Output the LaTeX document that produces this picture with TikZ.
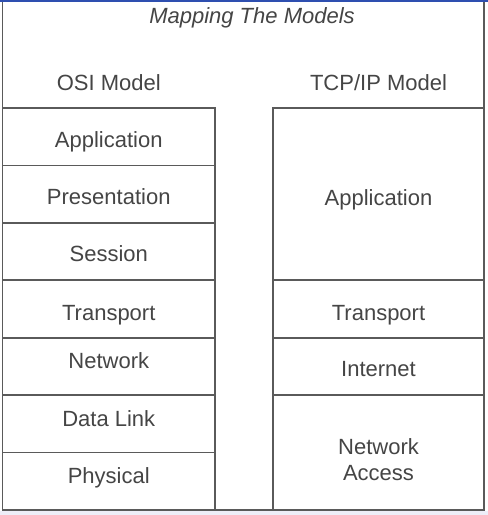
\documentclass[tikz,border=0pt]{standalone}
\usepackage{fontspec}
\setmainfont{Liberation Sans}
\definecolor{linegray}{HTML}{5A5A5A}
\definecolor{textgray}{HTML}{454545}
\definecolor{topblue}{HTML}{2E4FB0}
\definecolor{lav}{HTML}{EEEEF8}
\begin{document}
\begin{tikzpicture}[x=1pt,y=-1pt,
  layer/.style={draw=linegray,line width=1.8pt,rectangle,inner sep=0pt,outer sep=0pt,anchor=north west},
  txt/.style={text=textgray,font=\fontsize{22}{26}\selectfont,anchor=base,inner sep=0pt},
  ttl/.style={text=textgray,font=\fontsize{22}{26}\selectfont\itshape,anchor=base,inner sep=0pt}]
\useasboundingbox (0,0) rectangle (488,515);
\fill[white] (0,0) rectangle (488,515);
\fill[lav] (0,511) rectangle (488,515);
% outer frame
\node[layer,minimum width=481.5pt,minimum height=510pt] (frame) at (2.5,0) {};
\fill[topblue] (0,0) rectangle (488,1.6);
% OSI column
\node[layer,minimum width=212.5pt,minimum height=57.43pt] (o1) at (2.5,108) {};
\node[layer,minimum width=212.5pt,minimum height=57.43pt] (o2) at (2.5,165.43) {};
\node[layer,minimum width=212.5pt,minimum height=57.43pt] (o3) at (2.5,222.86) {};
\node[layer,minimum width=212.5pt,minimum height=57.43pt] (o4) at (2.5,280.29) {};
\node[layer,minimum width=212.5pt,minimum height=57.43pt] (o5) at (2.5,337.71) {};
\node[layer,minimum width=212.5pt,minimum height=57.43pt] (o6) at (2.5,395.14) {};
\node[layer,minimum width=212.5pt,minimum height=57.43pt] (o7) at (2.5,452.57) {};
% TCP/IP column
\node[layer,minimum width=211pt,minimum height=172.29pt] (t1) at (273,108) {};
\node[layer,minimum width=211pt,minimum height=57.43pt] (t2) at (273,280.29) {};
\node[layer,minimum width=211pt,minimum height=57.43pt] (t3) at (273,337.71) {};
\node[layer,minimum width=211pt,minimum height=114.86pt] (t4) at (273,395.14) {};
% texts
\node[ttl] (title) at (252,23.5) {Mapping The Models};
\node[txt] (osih) at (108.75,90) {OSI Model};
\node[txt] (tcph) at (378.5,90) {TCP/IP Model};
\node[txt] (o1t) at (108.75,147) {Application};
\node[txt] (o2t) at (108.75,204) {Presentation};
\node[txt] (o3t) at (108.75,261.7) {Session};
\node[txt] (o4t) at (108.75,320) {Transport};
\node[txt] (o5t) at (108.75,368.3) {Network};
\node[txt] (o6t) at (108.75,426) {Data Link};
\node[txt] (o7t) at (108.75,483) {Physical};
\node[txt] (t1t) at (378.5,205) {Application};
\node[txt] (t2t) at (378.5,320) {Transport};
\node[txt] (t3t) at (378.5,376.7) {Internet};
\node[txt] (t4a) at (378.5,454) {Network};
\node[txt] (t4b) at (378.5,480) {Access};
\end{tikzpicture}
\end{document}
